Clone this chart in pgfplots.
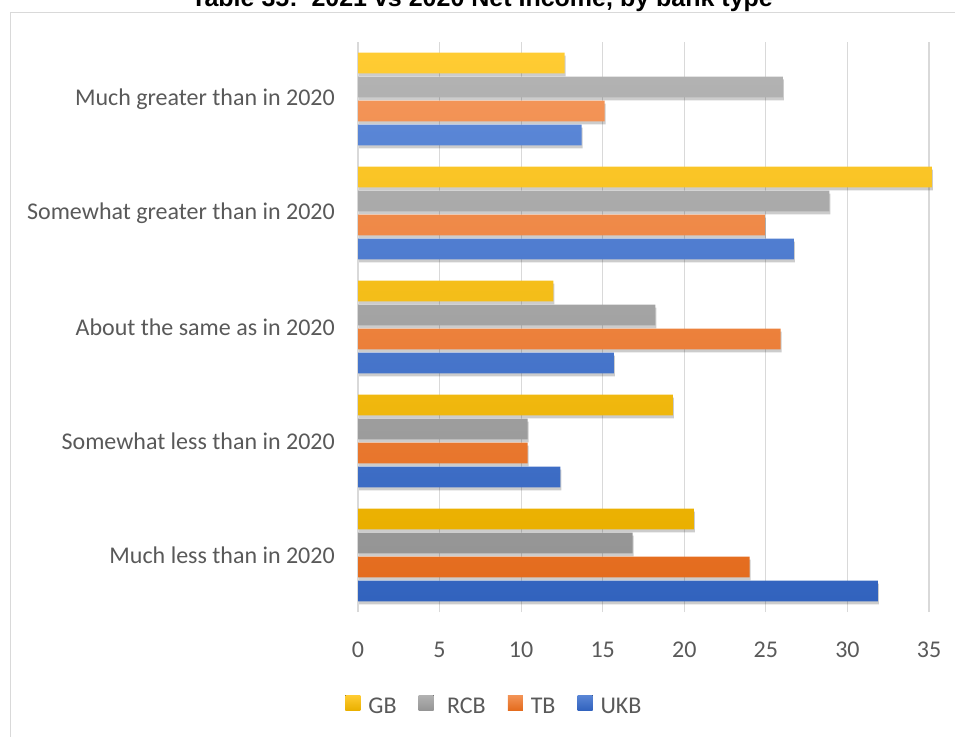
\documentclass[border=0pt]{standalone}
\usepackage{pgfplots}
\pgfplotsset{compat=1.18}
\usepackage{fontspec}
\setmainfont{Carlito}
\newfontfamily\titlefont{Liberation Sans}
\definecolor{gridc}{HTML}{D9D9D9}
\definecolor{txt}{HTML}{595959}
\definecolor{gbT}{HTML}{FFCC33}\definecolor{gbB}{HTML}{EAB000}
\definecolor{rcT}{HTML}{B2B2B2}\definecolor{rcB}{HTML}{959595}
\definecolor{tbT}{HTML}{F39457}\definecolor{tbB}{HTML}{E46C1E}
\definecolor{ukT}{HTML}{5A86D6}\definecolor{ukB}{HTML}{3263BE}
\begin{document}
\begin{tikzpicture}
\useasboundingbox (0pt,0pt) rectangle (955pt,736pt);
\draw[gridc, line width=1.5pt] (10.5pt,-10pt) -- (10.5pt,723.5pt) -- (970pt,723.5pt);
\node[font=\titlefont\bfseries\fontsize{25}{30}\selectfont, anchor=base, inner sep=0pt] at (482pt,729pt) {Table 35:\ \ 2021 vs 2020 Net Income, by bank type};
\begin{axis}[
  at={(358pt,124pt)}, anchor=south west,
  width=571pt, height=570pt, scale only axis,
  xmin=0, xmax=35, ymin=-0.5, ymax=4.5,
  clip=false,
  xbar, bar width=0.184,
  axis line style={draw=none},
  major tick length=0pt,
  xtick={0,5,...,35},
  xmajorgrids, grid style={gridc, line width=1.2pt},
  ytick={0,1,2,3,4},
  yticklabels={Much less than in 2020, Somewhat less than in 2020, About the same as in 2020, Somewhat greater than in 2020, Much greater than in 2020},
  ticklabel style={font=\fontsize{24}{28}\selectfont, text=txt},
  /pgf/number format/assume math mode=true,
  yticklabel style={inner sep=0pt, anchor=east, xshift=-23pt},
  xticklabel style={inner sep=0pt, anchor=center, yshift=-38pt},
  legend style={at={(0.239,-0.165)}, anchor=center, legend columns=4, draw=none, fill=none,
    font=\fontsize{24}{28}\selectfont, text=txt,
    /tikz/every odd column/.append style={column sep=6pt},
    /tikz/every even column/.append style={column sep=20pt},
    inner sep=0pt},
]
% soft shadows
\addplot[forget plot, draw=none, fill=black, opacity=0.2, bar shift=0.2895, xshift=1pt]
  coordinates {(20.58,0) (19.30,1) (11.98,2) (35.17,3) (12.67,4)};
\addplot[forget plot, draw=none, fill=black, opacity=0.2, bar shift=0.0790, xshift=1pt]
  coordinates {(16.84,0) (10.40,1) (18.23,2) (28.89,3) (26.05,4)};
\addplot[forget plot, draw=none, fill=black, opacity=0.2, bar shift=-0.1316, xshift=1pt]
  coordinates {(24.01,0) (10.40,1) (25.91,2) (24.94,3) (15.11,4)};
\addplot[forget plot, draw=none, fill=black, opacity=0.2, bar shift=-0.3421, xshift=1pt]
  coordinates {(31.87,0) (12.41,1) (15.68,2) (26.71,3) (13.71,4)};
% bars
\addplot[draw=none, top color=gbT, bottom color=gbB, bar shift=0.3158,
  legend image code/.code={\fill[top color=gbT, bottom color=gbB] (0pt,-3.5pt) rectangle (15pt,11.5pt);}]
  coordinates {(20.58,0) (19.30,1) (11.98,2) (35.17,3) (12.67,4)};
\addlegendentry{GB}
\addplot[draw=none, top color=rcT, bottom color=rcB, bar shift=0.1053,
  legend image code/.code={\fill[top color=rcT, bottom color=rcB] (0pt,-3.5pt) rectangle (15pt,11.5pt);}]
  coordinates {(16.84,0) (10.40,1) (18.23,2) (28.89,3) (26.05,4)};
\addlegendentry{\ RCB}
\addplot[draw=none, top color=tbT, bottom color=tbB, bar shift=-0.1053,
  legend image code/.code={\fill[top color=tbT, bottom color=tbB] (0pt,-3.5pt) rectangle (15pt,11.5pt);}]
  coordinates {(24.01,0) (10.40,1) (25.91,2) (24.94,3) (15.11,4)};
\addlegendentry{TB}
\addplot[draw=none, top color=ukT, bottom color=ukB, bar shift=-0.3158,
  legend image code/.code={\fill[top color=ukT, bottom color=ukB] (0pt,-3.5pt) rectangle (15pt,11.5pt);}]
  coordinates {(31.87,0) (12.41,1) (15.68,2) (26.71,3) (13.71,4)};
\addlegendentry{UKB}
\end{axis}
\end{tikzpicture}
\end{document}
